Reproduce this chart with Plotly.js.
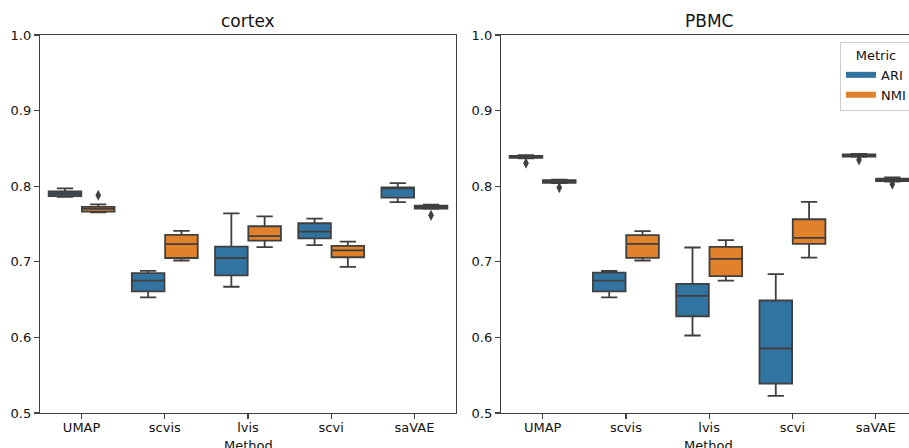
<!DOCTYPE html>
<html>
<head>
<meta charset="utf-8">
<script src="https://cdn.plot.ly/plotly-3.0.1.min.js"></script>
<style>html,body{margin:0;padding:0;background:#fff;}#chart{width:909px;height:448px;}</style>
</head>
<body>
<div id="chart"></div>
<script>
// ---- data ----
const methods = ['UMAP', 'scvis', 'lvis', 'scvi', 'saVAE'];
const metrics = ['ARI', 'NMI'];
const panelTitles = ['cortex', 'PBMC'];
const xTitle = 'Method';

// cortex – ARI
const cortexARI_low  = [0.786, 0.653, 0.667, 0.722, 0.779];
const cortexARI_q1   = [0.787, 0.661, 0.682, 0.731, 0.785];
const cortexARI_med  = [0.790, 0.675, 0.705, 0.740, 0.797];
const cortexARI_q3   = [0.793, 0.685, 0.720, 0.751, 0.7985];
const cortexARI_high = [0.797, 0.688, 0.764, 0.757, 0.804];
const cortexARI_out  = [[], [], [], [], []];
// cortex – NMI
const cortexNMI_low  = [0.7655, 0.7017, 0.7195, 0.6934, 0.770];
const cortexNMI_q1   = [0.7664, 0.705, 0.728, 0.706, 0.7704];
const cortexNMI_med  = [0.770, 0.7235, 0.734, 0.715, 0.7726];
const cortexNMI_q3   = [0.7726, 0.7355, 0.747, 0.721, 0.7744];
const cortexNMI_high = [0.776, 0.741, 0.760, 0.7266, 0.7757];
const cortexNMI_out  = [[0.788], [], [], [], [0.7615]];
// PBMC – ARI
const pbmcARI_low  = [0.837, 0.653, 0.6025, 0.5227, 0.8388];
const pbmcARI_q1   = [0.8375, 0.661, 0.628, 0.5388, 0.8392];
const pbmcARI_med  = [0.8388, 0.675, 0.655, 0.5853, 0.8406];
const pbmcARI_q3   = [0.840, 0.6858, 0.6708, 0.6488, 0.8419];
const pbmcARI_high = [0.841, 0.688, 0.7189, 0.6836, 0.8428];
const pbmcARI_out  = [[0.8304], [], [], [], [0.8348]];
// PBMC – NMI
const pbmcNMI_low  = [0.804, 0.7017, 0.6752, 0.7056, 0.8062];
const pbmcNMI_q1   = [0.8044, 0.7052, 0.681, 0.7237, 0.8066];
const pbmcNMI_med  = [0.8062, 0.7237, 0.7039, 0.7317, 0.8084];
const pbmcNMI_q3   = [0.8079, 0.7352, 0.7198, 0.7563, 0.8101];
const pbmcNMI_high = [0.8088, 0.7405, 0.7286, 0.7793, 0.8115];
const pbmcNMI_out  = [[0.7982], [], [], [], [0.8026]];

const yTicks = [0.5, 0.6, 0.7, 0.8, 0.9, 1.0];

// ---- styling ----
const FONT = 'DejaVu Sans, sans-serif';
const EDGE = '#3f3f3f';
const FILL = {ARI: '#3274a1', NMI: '#e1812c'};
const AX = '#404040';

function boxTrace(metric, panel, lo, q1, med, q3, hi, out, xa, ya) {
  const t = {
    type: 'box', orientation: 'v', name: metric, legendgroup: metric, showlegend: false,
    offsetgroup: metric, alignmentgroup: panel,
    x: methods, q1: q1, median: med, q3: q3, lowerfence: lo, upperfence: hi,
    boxpoints: 'outliers', jitter: 0, pointpos: 0,
    fillcolor: FILL[metric],
    line: {color: EDGE, width: 1.8},
    whiskerwidth: 0.5,
    marker: {symbol: 'diamond-tall', size: 8, color: EDGE, line: {width: 0}},
    xaxis: xa, yaxis: ya, hoverinfo: 'skip'
  };
  if (out.some(a => a.length > 0)) t.y = out;
  else t.boxpoints = false;
  return t;
}

const traces = [
  boxTrace('ARI', 'cortex', cortexARI_low, cortexARI_q1, cortexARI_med, cortexARI_q3, cortexARI_high, cortexARI_out, 'x', 'y'),
  boxTrace('NMI', 'cortex', cortexNMI_low, cortexNMI_q1, cortexNMI_med, cortexNMI_q3, cortexNMI_high, cortexNMI_out, 'x', 'y'),
  boxTrace('ARI', 'PBMC', pbmcARI_low, pbmcARI_q1, pbmcARI_med, pbmcARI_q3, pbmcARI_high, pbmcARI_out, 'x2', 'y2'),
  boxTrace('NMI', 'PBMC', pbmcNMI_low, pbmcNMI_q1, pbmcNMI_med, pbmcNMI_q3, pbmcNMI_high, pbmcNMI_out, 'x2', 'y2')
];
// legend-only entries (patch style)
metrics.forEach(m => traces.push({
  type: 'scatter', x: [null], y: [null], name: m, legendgroup: m, showlegend: true,
  mode: 'none', fill: 'toself', fillcolor: FILL[m], xaxis: 'x2', yaxis: 'y2', hoverinfo: 'skip'
}));

const W = 909, H = 448, ML = 40, MR = 0, MT = 35, MB = 35;
const pw = W - ML - MR, ph = H - MT - MB;
const px = v => (v - ML) / pw;
const py = v => (H - MB - v) / ph;

const xBase = {
  type: 'category', showline: true, mirror: true, linecolor: AX, linewidth: 1.2,
  ticks: 'outside', ticklen: 5, tickwidth: 1.2, tickcolor: AX, ticklabelstandoff: -3,
  showgrid: false, zeroline: false,
  tickfont: {family: FONT, size: 13, color: '#111'}
};
const yBase = {
  range: [0.5, 1.0], tickvals: yTicks, tickformat: '.1f',
  showline: true, linecolor: AX, linewidth: 1.2,
  ticks: 'outside', ticklen: 5, tickwidth: 1.2, tickcolor: AX,
  showgrid: false, zeroline: false,
  tickfont: {family: FONT, size: 13, color: '#111'}
};

const panelCenters = [(40 + 456) / 2, (501 + 916) / 2];

const layout = {
  width: W, height: H,
  margin: {l: ML, r: MR, t: MT, b: MB, pad: 0, autoexpand: false},
  paper_bgcolor: '#fff', plot_bgcolor: '#fff',
  font: {family: FONT, color: '#111'},
  boxmode: 'group', boxgap: 0.2, boxgroupgap: 0.02,
  xaxis: Object.assign({}, xBase, {domain: [0, px(456)], range: [-0.5, 4.5], anchor: 'y'}),
  yaxis: Object.assign({}, yBase, {domain: [0, 1], anchor: 'x', mirror: true}),
  xaxis2: Object.assign({}, xBase, {domain: [px(501), 1], range: [-0.5, 4.4], anchor: 'y2'}),
  yaxis2: Object.assign({}, yBase, {domain: [0, 1], anchor: 'x2', mirror: false}),
  showlegend: true,
  legend: {
    x: px(840), y: py(42), xanchor: 'left', yanchor: 'top',
    title: {text: 'Metric', side: 'top center', font: {family: FONT, size: 13, color: '#111'}},
    font: {family: FONT, size: 13, color: '#111'},
    bgcolor: 'rgba(255,255,255,0.9)', bordercolor: '#cccccc', borderwidth: 1,
    itemwidth: 30, tracegroupgap: 0
  },
  annotations: panelTitles.map((t, i) => ({
    text: t, xref: 'paper', yref: 'paper',
    x: px(panelCenters[i]), y: py(21),
    xanchor: 'center', yanchor: 'middle', showarrow: false,
    font: {family: FONT, size: 17, color: '#111'}
  })).concat([248, 708].map(c => ({
    text: xTitle, xref: 'paper', yref: 'paper',
    x: px(c), y: py(446),
    xanchor: 'center', yanchor: 'middle', showarrow: false,
    font: {family: FONT, size: 13, color: '#111'}
  })))
};

Plotly.newPlot('chart', traces, layout, {displayModeBar: false, staticPlot: true});
</script>
</body>
</html>
